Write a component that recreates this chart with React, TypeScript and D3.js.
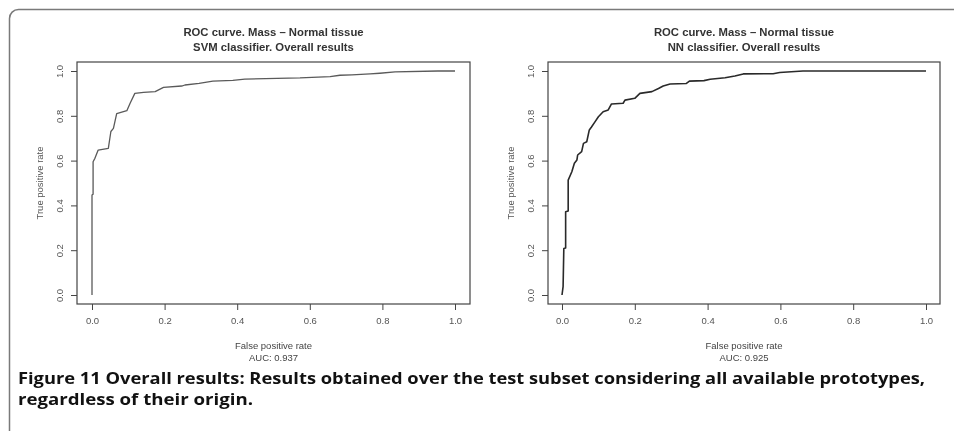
import React, { useRef, useEffect } from 'react';
import * as d3 from 'd3';

// ROC vertices
const svmFpr = [0, 0, 0.003, 0.003, 0.008, 0.017, 0.045, 0.052, 0.059, 0.068, 0.096, 0.105, 0.118, 0.142, 0.174, 0.197, 0.247, 0.256, 0.295, 0.333, 0.388, 0.421, 0.573, 0.656, 0.683, 0.716, 0.766, 0.793, 0.835, 0.953, 1];
const svmTpr = [0, 0.446, 0.45, 0.595, 0.61, 0.647, 0.655, 0.73, 0.744, 0.81, 0.823, 0.856, 0.9, 0.905, 0.908, 0.927, 0.933, 0.9375, 0.945, 0.955, 0.958, 0.964, 0.969, 0.975, 0.981, 0.983, 0.987, 0.99, 0.996, 1, 1];

const nnFpr = [0, 0.003, 0.005, 0.01, 0.01, 0.017, 0.017, 0.027, 0.034, 0.041, 0.043, 0.054, 0.059, 0.068, 0.075, 0.081, 0.091, 0.1, 0.113, 0.127, 0.136, 0.168, 0.173, 0.2, 0.214, 0.247, 0.265, 0.278, 0.297, 0.341, 0.35, 0.39, 0.407, 0.448, 0.475, 0.498, 0.58, 0.598, 0.662, 1];
const nnTpr = [0, 0.037, 0.208, 0.21, 0.372, 0.375, 0.513, 0.55, 0.588, 0.603, 0.625, 0.64, 0.677, 0.684, 0.737, 0.75, 0.774, 0.796, 0.818, 0.826, 0.853, 0.856, 0.87, 0.878, 0.9, 0.908, 0.922, 0.933, 0.942, 0.944, 0.955, 0.957, 0.963, 0.97, 0.978, 0.987, 0.988, 0.993, 1, 1];

const ticks = [0, 0.2, 0.4, 0.6, 0.8, 1.0];
const mainTitle = 'ROC curve. Mass \u2013 Normal tissue';
const subTitles = ['SVM classifier. Overall results', 'NN classifier. Overall results'];
const aucLabels = ['AUC: 0.937', 'AUC: 0.925'];
const captionLines = [
  'Figure 11 Overall results: Results obtained over the test subset considering all available prototypes,',
  'regardless of their origin.',
];

const W = 954;
const H = 431;
const FONT = '"Liberation Sans", Arial, sans-serif';

const App = () => {
  const svgRef = useRef<SVGSVGElement | null>(null);

  useEffect(() => {
    const svg = d3.select(svgRef.current);
    svg.selectAll('*').remove();

    // figure frame (runs off the right and bottom edges)
    svg.append('rect')
      .attr('x', 9.5).attr('y', 9.5)
      .attr('width', 980).attr('height', 460)
      .attr('rx', 9)
      .attr('fill', 'white')
      .attr('stroke', '#7a7a7a')
      .attr('stroke-width', 1.5);

    const panels = [
      { left: 77, right: 470, x0: 92, x1: 455, fpr: svmFpr, tpr: svmTpr, color: '#5a5a5a', sw: 1.3 },
      { left: 548, right: 940, x0: 562, x1: 926, fpr: nnFpr, tpr: nnTpr, color: '#2a2a2a', sw: 1.6 },
    ];
    const top = 62, bottom = 304;

    panels.forEach((p, i) => {
      const x = d3.scaleLinear().domain([0, 1]).range([p.x0, p.x1]);
      const y = d3.scaleLinear().domain([0, 1]).range([295, 71]);
      const g = svg.append('g').attr('font-family', FONT);
      const cx = (p.left + p.right) / 2;

      // titles
      g.append('text')
        .attr('x', cx).attr('y', 36)
        .attr('text-anchor', 'middle')
        .attr('font-size', 11.3).attr('font-weight', 'bold')
        .attr('fill', '#333')
        .text(mainTitle);
      g.append('text')
        .attr('x', cx).attr('y', 51)
        .attr('text-anchor', 'middle')
        .attr('font-size', 11.3).attr('font-weight', 'bold')
        .attr('fill', '#333')
        .text(subTitles[i]);

      // box
      g.append('rect')
        .attr('x', p.left).attr('y', top)
        .attr('width', p.right - p.left).attr('height', bottom - top)
        .attr('fill', 'none')
        .attr('stroke', '#444')
        .attr('stroke-width', 1.2);

      // x axis
      const xAxis = d3.axisBottom(x).tickValues(ticks).tickSize(6).tickPadding(7)
        .tickFormat(d3.format('.1f'));
      const gx = g.append('g')
        .attr('transform', `translate(0,${bottom})`)
        .call(xAxis);
      gx.select('.domain').remove();
      gx.selectAll('line').attr('stroke', '#444');
      gx.selectAll('text')
        .attr('font-family', FONT).attr('font-size', 9.5).attr('fill', '#555');

      // y axis
      const yAxis = d3.axisLeft(y).tickValues(ticks).tickSize(6).tickFormat(d3.format('.1f'));
      const gy = g.append('g')
        .attr('transform', `translate(${p.left},0)`)
        .call(yAxis);
      gy.select('.domain').remove();
      gy.selectAll('line').attr('stroke', '#444');
      gy.selectAll('text')
        .attr('x', null).attr('dy', null)
        .attr('font-family', FONT).attr('font-size', 9.5).attr('fill', '#555')
        .attr('text-anchor', 'middle')
        .attr('transform', `translate(-14.5,0) rotate(-90)`)
        .attr('y', 0);

      // axis labels
      g.append('text')
        .attr('x', cx).attr('y', 348.5)
        .attr('text-anchor', 'middle')
        .attr('font-size', 9.5).attr('fill', '#444')
        .text('False positive rate');
      g.append('text')
        .attr('x', cx).attr('y', 360.5)
        .attr('text-anchor', 'middle')
        .attr('font-size', 9.5).attr('fill', '#444')
        .text(aucLabels[i]);
      g.append('text')
        .attr('transform', `translate(${p.left - 34.5},${(top + bottom) / 2}) rotate(-90)`)
        .attr('text-anchor', 'middle')
        .attr('font-size', 9.5).attr('fill', '#555')
        .text('True positive rate');

      // curve
      const pts = p.fpr.map((f, k) => [f, p.tpr[k]] as [number, number]);
      const line = d3.line<[number, number]>()
        .x(d => x(d[0]))
        .y(d => y(d[1]));
      g.append('path')
        .datum(pts)
        .attr('fill', 'none')
        .attr('stroke', p.color)
        .attr('stroke-width', p.sw)
        .attr('stroke-linejoin', 'round')
        .attr('d', line);
    });

    // caption
    const cap = svg.append('g')
      .attr('font-family', '"Open Sans", sans-serif')
      .attr('font-weight', 'bold')
      .attr('font-size', 16)
      .attr('fill', '#111');
    cap.append('text')
      .attr('x', 18).attr('y', 384)
      .attr('textLength', 907).attr('lengthAdjust', 'spacingAndGlyphs')
      .text(captionLines[0]);
    cap.append('text')
      .attr('x', 18).attr('y', 405)
      .attr('textLength', 235).attr('lengthAdjust', 'spacingAndGlyphs')
      .text(captionLines[1]);
  }, []);

  return (
    <div style={{ position: 'fixed', left: 0, top: 0 }}>
      <svg ref={svgRef} width={W} height={H} style={{ display: 'block' }} />
    </div>
  );
};

export default App;
